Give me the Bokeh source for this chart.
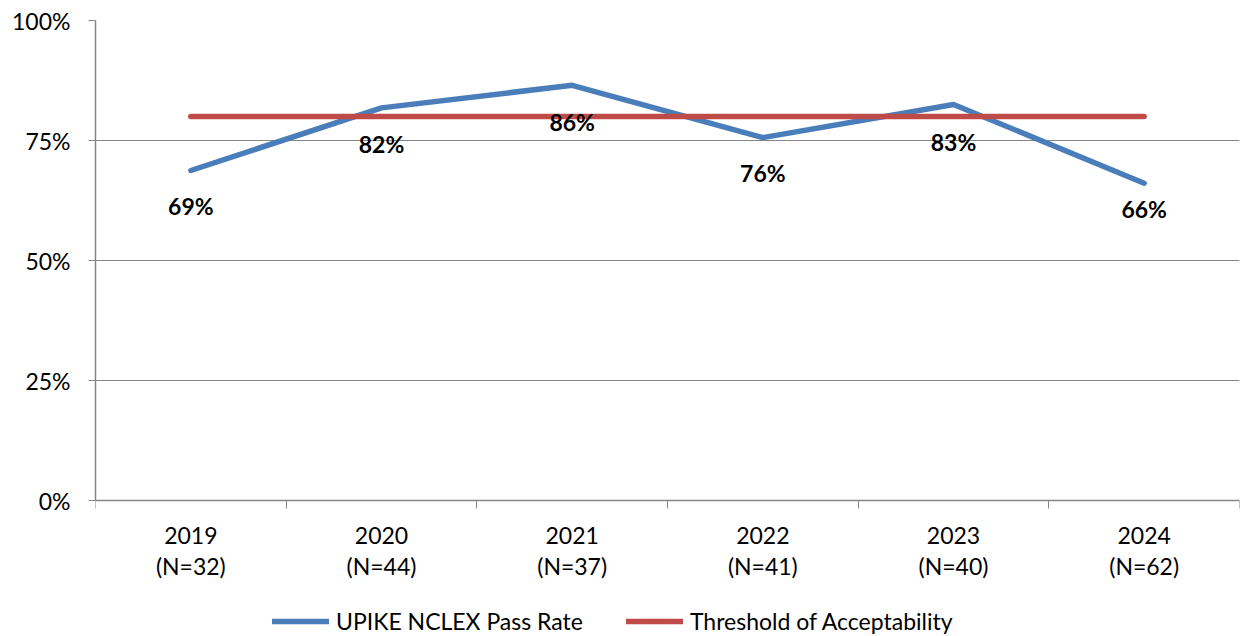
from bokeh.plotting import figure
from bokeh.models import (Range1d, FixedTicker, PrintfTickFormatter, Legend,
                          LegendItem, ColumnDataSource)
from bokeh.core.properties import value
from bokeh.embed import file_html
from bokeh.resources import INLINE

# ---- data ----
years = ["2019", "2020", "2021", "2022", "2023", "2024"]
counts = [32, 44, 37, 41, 40, 62]
pass_rate = [68.75, 81.8, 86.5, 75.6, 82.5, 66.1]
threshold = [80, 80, 80, 80, 80, 80]
rate_labels = ["69%", "82%", "86%", "76%", "83%", "66%"]
y_ticks = [0, 25, 50, 75, 100]

# ---- styles ----
FONT = "Lato"
GRAY = "#868686"
BLUE = "#4a7ebb"
RED = "#be4b48"
label_drop = [35, 36, 37, 35, 37, 26]  # screen px below each point

# frame runs from 20px (100%) down to the bottom of the figure; the value
# axis occupies 480px, the remaining 136px below hold the labels and legend
Y_LOW = -136 / 4.8

xs = [i + 0.5 for i in range(len(years))]
tick_text = {x: f"{y}\n(N={n})" for x, y, n in zip(xs, years, counts)}

p = figure(width=1240, height=636, output_backend="svg", toolbar_location=None,
           x_range=Range1d(0, len(years)), y_range=Range1d(Y_LOW, 100),
           min_border_left=95, min_border_right=1, min_border_top=20,
           min_border_bottom=0)
p.outline_line_color = None
p.background_fill_color = "white"
p.border_fill_color = "white"

# x axis (drawn at the 0% line)
xa = p.xaxis[0]
xa.fixed_location = 0
xa.ticker = FixedTicker(ticks=xs, minor_ticks=list(range(len(years) + 1)))
xa.major_label_overrides = tick_text
xa.major_tick_in = 0
xa.major_tick_out = 0
xa.minor_tick_in = 0
xa.minor_tick_out = 8
xa.minor_tick_line_color = GRAY
xa.axis_line_color = GRAY
xa.axis_line_width = 1.5
xa.major_label_text_font = FONT
xa.major_label_text_font_size = "23px"
xa.major_label_text_color = "black"
xa.major_label_standoff = 12
xa.major_label_text_line_height = 1.12

# y axis
ya = p.yaxis[0]
ya.bounds = (0, 100)
ya.ticker = FixedTicker(ticks=y_ticks)
ya.formatter = PrintfTickFormatter(format="%d%%")
ya.major_tick_in = 0
ya.major_tick_out = 7
ya.minor_tick_out = 0
ya.minor_tick_in = 0
ya.major_tick_line_color = GRAY
ya.axis_line_color = GRAY
ya.axis_line_width = 1.5
ya.major_label_text_font = FONT
ya.major_label_text_font_size = "23px"
ya.major_label_text_color = "black"
ya.major_label_standoff = 18

p.xgrid.grid_line_color = None
p.ygrid.ticker = FixedTicker(ticks=y_ticks)
p.ygrid.grid_line_color = GRAY
p.ygrid.grid_line_width = 1.2

src = ColumnDataSource(dict(x=xs, rate=pass_rate, thr=threshold,
                            lab=rate_labels, off=label_drop))

r_rate = p.line("x", "rate", source=src, line_width=5.5, line_color=BLUE,
                line_cap="round", line_join="round")
r_thr = p.line("x", "thr", source=src, line_width=5.5, line_color=RED,
               line_cap="round", line_join="round")

p.text("x", "rate", text="lab", source=src, y_offset="off",
       text_align="center", text_baseline="middle",
       text_font=value(FONT), text_font_style="bold",
       text_font_size="23px", text_color="black")

legend = Legend(items=[LegendItem(label="UPIKE NCLEX Pass Rate", renderers=[r_rate]),
                       LegendItem(label="Threshold of Acceptability", renderers=[r_thr])],
                orientation="horizontal", location=(177, 1),
                glyph_width=57, glyph_height=20, label_height=20,
                label_standoff=7, spacing=43,
                padding=0, margin=0, border_line_color=None,
                background_fill_alpha=0,
                label_text_font=FONT, label_text_font_size="23px",
                label_text_color="black")
p.add_layout(legend, "center")

open("out.html", "w").write(file_html(p, INLINE))
